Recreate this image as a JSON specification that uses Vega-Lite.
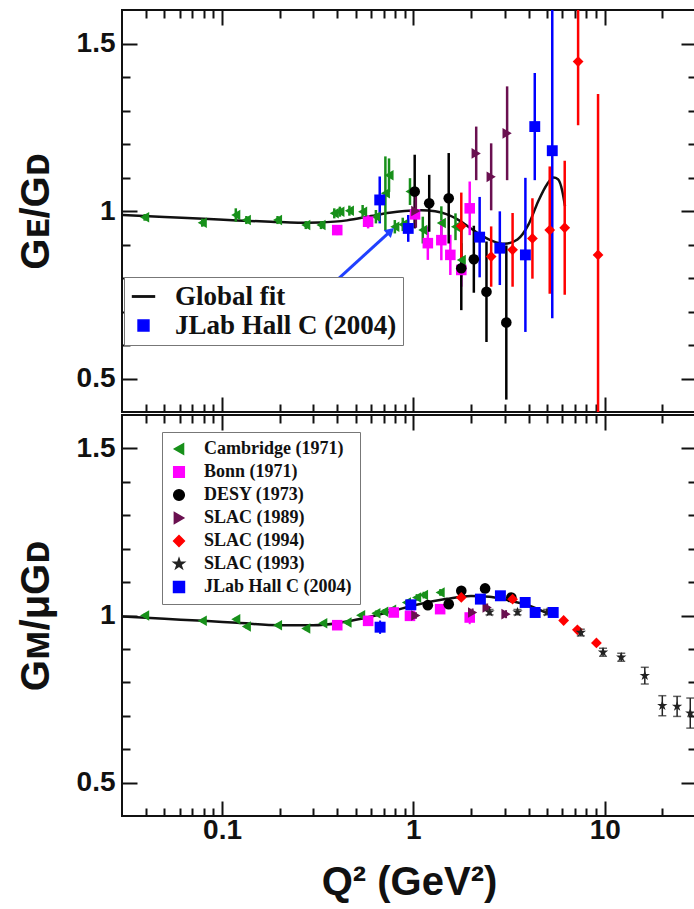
{
  "$schema": "https://vega.github.io/schema/vega-lite/v6.json",
  "background": "white",
  "padding": {"left": 15, "top": 7, "right": 1, "bottom": 2},
  "spacing": -6,
  "config": {
    "view": {"stroke": "#111", "strokeWidth": 2},
    "axis": {"domain": false, "grid": false, "tickColor": "#111", "tickWidth": 2, "labelFont": "Liberation Sans", "labelFontWeight": "bold", "labelFontSize": 28, "labelColor": "#111", "titleFont": "Liberation Sans", "titleFontWeight": "bold", "titleFontSize": 40, "titleColor": "#111", "labelOverlap": false},
    "legend": {"labelFont": "Liberation Serif", "labelFontWeight": "bold", "labelColor": "#111", "strokeColor": "#777", "fillColor": "white", "orient": "none", "title": null, "labelLimit": 400}
  },
  "datasets": {
    "topfit": [{"q":0.03,"v":0.988},{"q":0.05,"v":0.982},{"q":0.08,"v":0.977},{"q":0.12,"v":0.972},{"q":0.18,"v":0.968},{"q":0.25,"v":0.965},{"q":0.32,"v":0.966},{"q":0.45,"v":0.972},{"q":0.6,"v":0.985},{"q":0.75,"v":0.995},{"q":0.9,"v":1.0},{"q":1.1,"v":1.002},{"q":1.3,"v":0.999},{"q":1.5,"v":0.99},{"q":1.7,"v":0.975},{"q":2.0,"v":0.948},{"q":2.3,"v":0.925},{"q":2.6,"v":0.91},{"q":3.0,"v":0.902},{"q":3.5,"v":0.915},{"q":4.0,"v":0.96},{"q":4.5,"v":1.03},{"q":5.0,"v":1.08},{"q":5.4,"v":1.1},{"q":5.7,"v":1.095},{"q":6.0,"v":1.06},{"q":6.2,"v":1.015}],
    "botfit": [{"q":0.03,"v":0.997},{"q":0.05,"v":0.99},{"q":0.08,"v":0.984},{"q":0.12,"v":0.978},{"q":0.2,"v":0.971},{"q":0.3,"v":0.971},{"q":0.4,"v":0.977},{"q":0.5,"v":0.987},{"q":0.6,"v":0.997},{"q":0.8,"v":1.015},{"q":1.0,"v":1.03},{"q":1.5,"v":1.05},{"q":2.0,"v":1.058},{"q":2.5,"v":1.056},{"q":3.0,"v":1.048},{"q":4.0,"v":1.03},{"q":5.0,"v":1.007}],
    "arrow": [{"q":0.306,"v":0.734,"q2":0.76,"v2":0.94}],
    "top": [
      {"set":"Cambridge (1971)","q":0.0394,"v":0.981,"e":0.01},
      {"set":"Cambridge (1971)","q":0.0788,"v":0.965,"e":0.012},
      {"set":"Cambridge (1971)","q":0.118,"v":0.988,"e":0.02},
      {"set":"Cambridge (1971)","q":0.134,"v":0.973,"e":0.012},
      {"set":"Cambridge (1971)","q":0.195,"v":0.973,"e":0.012},
      {"set":"Cambridge (1971)","q":0.274,"v":0.958,"e":0.012},
      {"set":"Cambridge (1971)","q":0.329,"v":0.958,"e":0.012},
      {"set":"Cambridge (1971)","q":0.386,"v":0.993,"e":0.015},
      {"set":"Cambridge (1971)","q":0.413,"v":0.998,"e":0.015},
      {"set":"Cambridge (1971)","q":0.463,"v":1.001,"e":0.015},
      {"set":"Cambridge (1971)","q":0.543,"v":0.998,"e":0.02},
      {"set":"Cambridge (1971)","q":0.637,"v":0.983,"e":0.02},
      {"set":"Cambridge (1971)","q":0.714,"v":1.053,"e":0.11},
      {"set":"Cambridge (1971)","q":0.746,"v":1.107,"e":0.05},
      {"set":"Cambridge (1971)","q":0.8,"v":0.953,"e":0.02},
      {"set":"Cambridge (1971)","q":0.88,"v":0.96,"e":0.02},
      {"set":"Cambridge (1971)","q":0.96,"v":1.058,"e":0.04},
      {"set":"Cambridge (1971)","q":1.12,"v":0.943,"e":0.04},
      {"set":"Cambridge (1971)","q":1.4,"v":0.964,"e":0.05},
      {"set":"Cambridge (1971)","q":1.66,"v":0.953,"e":0.04},
      {"set":"Cambridge (1971)","q":1.78,"v":0.854,"e":0.05},
      {"set":"Bonn (1971)","q":0.4,"v":0.943,"e":0.015},
      {"set":"Bonn (1971)","q":0.58,"v":0.968,"e":0.02},
      {"set":"Bonn (1971)","q":1.02,"v":0.99,"e":0.04},
      {"set":"Bonn (1971)","q":1.19,"v":0.904,"e":0.05},
      {"set":"Bonn (1971)","q":1.4,"v":0.913,"e":0.06},
      {"set":"Bonn (1971)","q":1.56,"v":0.869,"e":0.06},
      {"set":"Bonn (1971)","q":1.78,"v":0.824,"e":0.05},
      {"set":"Bonn (1971)","q":1.97,"v":1.008,"e":0.08},
      {"set":"DESY (1973)","q":1.016,"v":1.058,"e":0.11},
      {"set":"DESY (1973)","q":1.21,"v":1.023,"e":0.085},
      {"set":"DESY (1973)","q":1.53,"v":1.038,"e":0.135},
      {"set":"DESY (1973)","q":1.78,"v":0.829,"e":0.125},
      {"set":"DESY (1973)","q":2.07,"v":0.856,"e":0.1},
      {"set":"DESY (1973)","q":2.41,"v":0.759,"e":0.15},
      {"set":"DESY (1973)","q":3.06,"v":0.667,"e":0.23},
      {"set":"SLAC (1989)","q":1.03,"v":1.0,"e":0.05},
      {"set":"SLAC (1989)","q":2.13,"v":1.172,"e":0.08},
      {"set":"SLAC (1989)","q":2.55,"v":1.102,"e":0.1},
      {"set":"SLAC (1989)","q":3.09,"v":1.232,"e":0.14},
      {"set":"SLAC (1994)","q":1.78,"v":0.955,"e":0.1},
      {"set":"SLAC (1994)","q":2.55,"v":0.864,"e":0.09},
      {"set":"SLAC (1994)","q":3.3,"v":0.884,"e":0.11},
      {"set":"SLAC (1994)","q":4.19,"v":0.918,"e":0.12},
      {"set":"SLAC (1994)","q":5.16,"v":0.943,"e":0.19},
      {"set":"SLAC (1994)","q":6.18,"v":0.95,"e":0.2},
      {"set":"SLAC (1994)","q":7.26,"v":1.446,"e":0.19},
      {"set":"SLAC (1994)","q":9.23,"v":0.869,"e":0.48},
      {"set":"JLab Hall C (2004)","q":0.667,"v":1.033,"e":0.07},
      {"set":"JLab Hall C (2004)","q":0.94,"v":0.948,"e":0.04},
      {"set":"JLab Hall C (2004)","q":2.22,"v":0.922,"e":0.12},
      {"set":"JLab Hall C (2004)","q":2.83,"v":0.889,"e":0.11},
      {"set":"JLab Hall C (2004)","q":3.85,"v":0.869,"e":0.23},
      {"set":"JLab Hall C (2004)","q":4.31,"v":1.252,"e":0.16},
      {"set":"JLab Hall C (2004)","q":5.32,"v":1.18,"e":0.5}
    ],
    "bot": [
      {"set":"Cambridge (1971)","q":0.0394,"v":1.0,"e":0.006},
      {"set":"Cambridge (1971)","q":0.0788,"v":0.984,"e":0.006},
      {"set":"Cambridge (1971)","q":0.118,"v":0.989,"e":0.006},
      {"set":"Cambridge (1971)","q":0.134,"v":0.967,"e":0.006},
      {"set":"Cambridge (1971)","q":0.195,"v":0.971,"e":0.006},
      {"set":"Cambridge (1971)","q":0.274,"v":0.961,"e":0.006},
      {"set":"Cambridge (1971)","q":0.336,"v":0.977,"e":0.006},
      {"set":"Cambridge (1971)","q":0.45,"v":0.979,"e":0.006},
      {"set":"Cambridge (1971)","q":0.53,"v":1.001,"e":0.006},
      {"set":"Cambridge (1971)","q":0.637,"v":1.007,"e":0.008},
      {"set":"Cambridge (1971)","q":0.7,"v":1.011,"e":0.008},
      {"set":"Cambridge (1971)","q":0.77,"v":1.017,"e":0.008},
      {"set":"Cambridge (1971)","q":0.92,"v":1.039,"e":0.008},
      {"set":"Cambridge (1971)","q":1.04,"v":1.054,"e":0.01},
      {"set":"Cambridge (1971)","q":1.13,"v":1.061,"e":0.01},
      {"set":"Cambridge (1971)","q":1.38,"v":1.069,"e":0.01},
      {"set":"Bonn (1971)","q":0.4,"v":0.971,"e":0.008},
      {"set":"Bonn (1971)","q":0.58,"v":0.984,"e":0.008},
      {"set":"Bonn (1971)","q":0.79,"v":1.009,"e":0.01},
      {"set":"Bonn (1971)","q":0.96,"v":0.999,"e":0.01},
      {"set":"Bonn (1971)","q":1.38,"v":1.019,"e":0.012},
      {"set":"Bonn (1971)","q":1.97,"v":0.994,"e":0.02},
      {"set":"DESY (1973)","q":1.19,"v":1.031,"e":0.01},
      {"set":"DESY (1973)","q":1.53,"v":1.034,"e":0.01},
      {"set":"DESY (1973)","q":1.78,"v":1.074,"e":0.01},
      {"set":"DESY (1973)","q":2.37,"v":1.081,"e":0.012},
      {"set":"DESY (1973)","q":3.25,"v":1.054,"e":0.012},
      {"set":"SLAC (1989)","q":1.03,"v":1.0,"e":0.01},
      {"set":"SLAC (1989)","q":2.04,"v":1.009,"e":0.012},
      {"set":"SLAC (1989)","q":2.43,"v":1.024,"e":0.012},
      {"set":"SLAC (1989)","q":3.05,"v":1.004,"e":0.012},
      {"set":"SLAC (1994)","q":1.78,"v":1.054,"e":0.01},
      {"set":"SLAC (1994)","q":3.3,"v":1.049,"e":0.01},
      {"set":"SLAC (1994)","q":6.1,"v":0.985,"e":0.01},
      {"set":"SLAC (1994)","q":7.2,"v":0.957,"e":0.01},
      {"set":"SLAC (1994)","q":9.05,"v":0.918,"e":0.01},
      {"set":"SLAC (1993)","q":2.5,"v":1.01,"e":0.008},
      {"set":"SLAC (1993)","q":3.5,"v":1.01,"e":0.008},
      {"set":"SLAC (1993)","q":5.0,"v":1.01,"e":0.008},
      {"set":"SLAC (1993)","q":7.5,"v":0.949,"e":0.01},
      {"set":"SLAC (1993)","q":9.8,"v":0.89,"e":0.012},
      {"set":"SLAC (1993)","q":12.2,"v":0.875,"e":0.012},
      {"set":"SLAC (1993)","q":16.2,"v":0.82,"e":0.025},
      {"set":"SLAC (1993)","q":20.0,"v":0.73,"e":0.03},
      {"set":"SLAC (1993)","q":23.9,"v":0.728,"e":0.03},
      {"set":"SLAC (1993)","q":28.0,"v":0.708,"e":0.045},
      {"set":"JLab Hall C (2004)","q":0.67,"v":0.965,"e":0.02},
      {"set":"JLab Hall C (2004)","q":0.97,"v":1.032,"e":0.012},
      {"set":"JLab Hall C (2004)","q":2.24,"v":1.049,"e":0.012},
      {"set":"JLab Hall C (2004)","q":2.85,"v":1.059,"e":0.012},
      {"set":"JLab Hall C (2004)","q":3.84,"v":1.039,"e":0.012},
      {"set":"JLab Hall C (2004)","q":4.33,"v":1.009,"e":0.012},
      {"set":"JLab Hall C (2004)","q":5.38,"v":1.009,"e":0.012}
    ]
  },
  "resolve": {"scale": {"color": "independent", "shape": "independent", "size": "independent"}, "legend": {"color": "independent", "shape": "independent"}},
  "vconcat": [
    {
      "width": 574,
      "height": 402,
      "resolve": {"axis": {"x": "independent", "y": "independent"}},
      "layer": [
        {
          "layer": [
            {
              "data": {"name": "topfit"},
              "mark": {"type": "line", "color": "#111", "strokeWidth": 2.5, "interpolate": "monotone", "clip": true},
              "encoding": {
                "x": {"field": "q", "type": "quantitative", "title": null, "scale": {"type": "log", "domain": [0.03, 30], "nice": false},
                  "axis": {"orient": "bottom", "values": [0.04,0.05,0.06,0.07,0.08,0.09,0.1,0.2,0.3,0.4,0.5,0.6,0.7,0.8,0.9,1,2,3,4,5,6,7,8,9,10,20], "labels": false,
                    "tickSize": {"condition": {"test": "datum.value == 0.1 || datum.value == 1 || datum.value == 10", "value": -15}, "value": -8}}},
                "y": {"field": "v", "type": "quantitative", "title": "Gᴇ/Gᴅ", "scale": {"domain": [0.4, 1.6], "nice": false, "zero": false, "clamp": true},
                  "axis": {"orient": "left", "values": [0.5,0.6,0.7,0.8,0.9,1,1.1,1.2,1.3,1.4,1.5], "titlePadding": 20, "labelPadding": 22,
                    "labelExpr": "datum.value == 1.5 ? '1.5' : datum.value == 1 ? '1' : datum.value == 0.5 ? '0.5' : ''",
                    "tickSize": {"condition": {"test": "datum.value == 0.5 || datum.value == 1 || datum.value == 1.5", "value": -15}, "value": -8}}}
              }
            },
            {
              "data": {"name": "top"},
              "mark": {"type": "errorbar", "thickness": 2.5},
              "encoding": {
                "x": {"field": "q", "type": "quantitative", "title": null},
                "y": {"field": "v", "type": "quantitative", "title": "Gᴇ/Gᴅ"},
                "yError": {"field": "e"},
                "color": {"field": "set", "type": "nominal",
                  "scale": {"domain": ["Cambridge (1971)","Bonn (1971)","DESY (1973)","SLAC (1989)","SLAC (1994)","SLAC (1993)","JLab Hall C (2004)","Global fit"], "range": ["#17901a","#ff00ff","#000000","#6a1050","#ff0000","#222222","#0000ff","#111111"]},
                  "legend": {"values": ["Global fit", "JLab Hall C (2004)"], "legendX": 2, "legendY": 267, "labelFontSize": 27, "symbolSize": 196, "padding": 6, "rowPadding": 1, "labelOffset": 18}}
              }
            },
            {
              "data": {"name": "top"},
              "mark": {"type": "point", "filled": true, "opacity": 1},
              "encoding": {
                "x": {"field": "q", "type": "quantitative", "title": null},
                "y": {"field": "v", "type": "quantitative", "title": "Gᴇ/Gᴅ"},
                "color": {"field": "set", "type": "nominal",
                  "scale": {"domain": ["Cambridge (1971)","Bonn (1971)","DESY (1973)","SLAC (1989)","SLAC (1994)","SLAC (1993)","JLab Hall C (2004)","Global fit"], "range": ["#17901a","#ff00ff","#000000","#6a1050","#ff0000","#222222","#0000ff","#111111"]},
                  "legend": {"values": ["Global fit", "JLab Hall C (2004)"], "legendX": 2, "legendY": 267, "labelFontSize": 27, "symbolSize": 196, "padding": 6, "rowPadding": 1, "labelOffset": 18}},
                "shape": {"field": "set", "type": "nominal",
                  "scale": {"domain": ["Cambridge (1971)","Bonn (1971)","DESY (1973)","SLAC (1989)","SLAC (1994)","SLAC (1993)","JLab Hall C (2004)","Global fit"], "range": ["triangle-left","square","circle","triangle-right","diamond","M0,-1L0.2245,-0.309L0.951,-0.309L0.363,0.118L0.588,0.809L0,0.382L-0.588,0.809L-0.363,0.118L-0.951,-0.309L-0.2245,-0.309Z","square","M-2,-0.12H2V0.12H-2Z"]},
                  "legend": {"values": ["Global fit", "JLab Hall C (2004)"], "legendX": 2, "legendY": 267, "labelFontSize": 27, "symbolSize": 196, "padding": 6, "rowPadding": 1, "labelOffset": 18}},
                "size": {"field": "set", "type": "nominal",
                  "scale": {"domain": ["Cambridge (1971)","Bonn (1971)","DESY (1973)","SLAC (1989)","SLAC (1994)","SLAC (1993)","JLab Hall C (2004)","Global fit"], "range": [110,120,120,120,95,60,240,10]},
                  "legend": null}
              }
            },
            {
              "data": {"name": "arrow"},
              "mark": {"type": "rule", "color": "#2040ff", "strokeWidth": 3},
              "encoding": {
                "x": {"field": "q", "type": "quantitative", "title": null},
                "y": {"field": "v", "type": "quantitative", "title": "Gᴇ/Gᴅ"},
                "x2": {"field": "q2"},
                "y2": {"field": "v2"}
              }
            },
            {
              "data": {"name": "arrow"},
              "mark": {"type": "point", "shape": "triangle-up", "filled": true, "color": "#2040ff", "opacity": 1, "size": 110, "angle": 47},
              "encoding": {
                "x": {"field": "q2", "type": "quantitative", "title": null},
                "y": {"field": "v2", "type": "quantitative", "title": "Gᴇ/Gᴅ"}
              }
            }
          ]
        },
        {
          "data": {"values": [{"q": 1, "v": 1}]},
          "mark": {"type": "point", "opacity": 0},
          "encoding": {
            "x": {"field": "q", "type": "quantitative", "scale": {"type": "log", "domain": [0.03, 30], "nice": false},
              "axis": {"orient": "top", "values": [0.04,0.05,0.06,0.07,0.08,0.09,0.1,0.2,0.3,0.4,0.5,0.6,0.7,0.8,0.9,1,2,3,4,5,6,7,8,9,10,20], "labels": false, "title": null,
                "tickSize": {"condition": {"test": "datum.value == 0.1 || datum.value == 1 || datum.value == 10", "value": -15}, "value": -8}}},
            "y": {"field": "v", "type": "quantitative", "scale": {"domain": [0.4, 1.6], "nice": false, "zero": false, "clamp": true},
              "axis": {"orient": "right", "values": [0.5,0.6,0.7,0.8,0.9,1,1.1,1.2,1.3,1.4,1.5], "labels": false, "title": null,
                "tickSize": {"condition": {"test": "datum.value == 0.5 || datum.value == 1 || datum.value == 1.5", "value": -15}, "value": -8}}}
          }
        }
      ]
    },
    {
      "width": 574,
      "height": 401,
      "resolve": {"axis": {"x": "independent", "y": "independent"}},
      "layer": [
        {
          "layer": [
            {
              "data": {"name": "botfit"},
              "mark": {"type": "line", "color": "#111", "strokeWidth": 2.5, "interpolate": "monotone", "clip": true},
              "encoding": {
                "x": {"field": "q", "type": "quantitative", "title": "Q² (GeV²)", "scale": {"type": "log", "domain": [0.03, 30], "nice": false},
                  "axis": {"orient": "bottom", "values": [0.04,0.05,0.06,0.07,0.08,0.09,0.1,0.2,0.3,0.4,0.5,0.6,0.7,0.8,0.9,1,2,3,4,5,6,7,8,9,10,20],
                    "labelExpr": "datum.value == 0.1 ? '0.1' : datum.value == 1 ? '1' : datum.value == 10 ? '10' : ''", "labelPadding": 15,
                    "titlePadding": 11,
                    "tickSize": {"condition": {"test": "datum.value == 0.1 || datum.value == 1 || datum.value == 10", "value": -15}, "value": -8}}},
                "y": {"field": "v", "type": "quantitative", "title": "Gᴍ/μGᴅ", "scale": {"domain": [0.4, 1.6], "nice": false, "zero": false, "clamp": true},
                  "axis": {"orient": "left", "values": [0.5,0.6,0.7,0.8,0.9,1,1.1,1.2,1.3,1.4,1.5], "titlePadding": 20, "labelPadding": 22,
                    "labelExpr": "datum.value == 1.5 ? '1.5' : datum.value == 1 ? '1' : datum.value == 0.5 ? '0.5' : ''",
                    "tickSize": {"condition": {"test": "datum.value == 0.5 || datum.value == 1 || datum.value == 1.5", "value": -15}, "value": -8}}}
              }
            },
            {
              "data": {"name": "bot"},
              "transform": [{"filter": "datum.set != 'SLAC (1993)'"}],
              "mark": {"type": "errorbar", "thickness": 2},
              "encoding": {
                "x": {"field": "q", "type": "quantitative", "title": "Q² (GeV²)"},
                "y": {"field": "v", "type": "quantitative", "title": "Gᴍ/μGᴅ"},
                "yError": {"field": "e"},
                "color": {"field": "set", "type": "nominal",
                  "scale": {"domain": ["Cambridge (1971)","Bonn (1971)","DESY (1973)","SLAC (1989)","SLAC (1994)","SLAC (1993)","JLab Hall C (2004)"], "range": ["#17901a","#ff00ff","#000000","#6a1050","#ff0000","#222222","#0000ff"]},
                  "legend": {"values": ["Cambridge (1971)","Bonn (1971)","DESY (1973)","SLAC (1989)","SLAC (1994)","SLAC (1993)","JLab Hall C (2004)"], "legendX": 40, "legendY": 17, "labelFontSize": 18, "symbolSize": 110, "padding": 8, "rowPadding": 5, "labelOffset": 16}}
              }
            },
            {
              "data": {"name": "bot"},
              "transform": [{"filter": "datum.set == 'SLAC (1993)'"}],
              "mark": {"type": "errorbar", "thickness": 1.5, "ticks": {"size": 8, "color": "#222"}, "color": "#222"},
              "encoding": {
                "x": {"field": "q", "type": "quantitative", "title": "Q² (GeV²)"},
                "y": {"field": "v", "type": "quantitative", "title": "Gᴍ/μGᴅ"},
                "yError": {"field": "e"}
              }
            },
            {
              "data": {"name": "bot"},
              "mark": {"type": "point", "filled": true, "opacity": 1},
              "encoding": {
                "x": {"field": "q", "type": "quantitative", "title": "Q² (GeV²)"},
                "y": {"field": "v", "type": "quantitative", "title": "Gᴍ/μGᴅ"},
                "color": {"field": "set", "type": "nominal",
                  "scale": {"domain": ["Cambridge (1971)","Bonn (1971)","DESY (1973)","SLAC (1989)","SLAC (1994)","SLAC (1993)","JLab Hall C (2004)"], "range": ["#17901a","#ff00ff","#000000","#6a1050","#ff0000","#222222","#0000ff"]},
                  "legend": {"values": ["Cambridge (1971)","Bonn (1971)","DESY (1973)","SLAC (1989)","SLAC (1994)","SLAC (1993)","JLab Hall C (2004)"], "legendX": 40, "legendY": 17, "labelFontSize": 18, "symbolSize": 110, "padding": 8, "rowPadding": 5, "labelOffset": 16}},
                "shape": {"field": "set", "type": "nominal",
                  "scale": {"domain": ["Cambridge (1971)","Bonn (1971)","DESY (1973)","SLAC (1989)","SLAC (1994)","SLAC (1993)","JLab Hall C (2004)"], "range": ["triangle-left","square","circle","triangle-right","diamond","M0,-1L0.2245,-0.309L0.951,-0.309L0.363,0.118L0.588,0.809L0,0.382L-0.588,0.809L-0.363,0.118L-0.951,-0.309L-0.2245,-0.309Z","square"]},
                  "legend": {"values": ["Cambridge (1971)","Bonn (1971)","DESY (1973)","SLAC (1989)","SLAC (1994)","SLAC (1993)","JLab Hall C (2004)"], "legendX": 40, "legendY": 17, "labelFontSize": 18, "symbolSize": 110, "padding": 8, "rowPadding": 5, "labelOffset": 16}},
                "size": {"field": "set", "type": "nominal",
                  "scale": {"domain": ["Cambridge (1971)","Bonn (1971)","DESY (1973)","SLAC (1989)","SLAC (1994)","SLAC (1993)","JLab Hall C (2004)"], "range": [110,120,120,120,95,60,240]},
                  "legend": null}
              }
            }
          ]
        },
        {
          "data": {"values": [{"q": 1, "v": 1}]},
          "mark": {"type": "point", "opacity": 0},
          "encoding": {
            "x": {"field": "q", "type": "quantitative", "scale": {"type": "log", "domain": [0.03, 30], "nice": false},
              "axis": {"orient": "top", "values": [0.04,0.05,0.06,0.07,0.08,0.09,0.1,0.2,0.3,0.4,0.5,0.6,0.7,0.8,0.9,1,2,3,4,5,6,7,8,9,10,20], "labels": false, "title": null,
                "tickSize": {"condition": {"test": "datum.value == 0.1 || datum.value == 1 || datum.value == 10", "value": -15}, "value": -8}}},
            "y": {"field": "v", "type": "quantitative", "scale": {"domain": [0.4, 1.6], "nice": false, "zero": false, "clamp": true},
              "axis": {"orient": "right", "values": [0.5,0.6,0.7,0.8,0.9,1,1.1,1.2,1.3,1.4,1.5], "labels": false, "title": null,
                "tickSize": {"condition": {"test": "datum.value == 0.5 || datum.value == 1 || datum.value == 1.5", "value": -15}, "value": -8}}}
          }
        }
      ]
    }
  ]
}
